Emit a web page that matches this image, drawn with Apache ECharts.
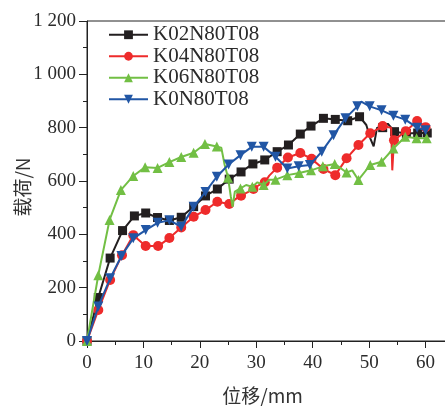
<!DOCTYPE html>
<html><head><meta charset="utf-8">
<script src="https://cdn.jsdelivr.net/npm/echarts@6/dist/echarts.min.js"></script>
<style>html,body{margin:0;padding:0;background:#fff}#c{width:445px;height:406px}</style>
</head><body><div id="c"></div>
<script>
// [x (mm), load (N), marker shown 1/0]
const seriesNames = ['K02N80T08','K04N80T08','K06N80T08','K0N80T08'];
const k02 = [[0,0,1],[2.0,163,1],[4.1,311,1],[6.3,414,1],[8.4,469,1],[10.4,480,1],[12.5,463,1],[14.6,452,1],[16.7,464,1],[18.9,504,1],[21.0,544,1],[23.1,570,1],[25.2,607,1],[27.3,634,1],[29.4,664,1],[31.5,679,1],[33.7,710,1],[35.7,735,1],[37.8,776,1],[39.7,806,1],[41.9,835,1],[44.0,831,1],[46.2,826,1],[48.3,841,1],[49.5,810,0],[50.2,760,0],[50.8,730,0],[51.4,800,0],[52.4,800,1],[53.3,815,0],[54.5,785,1],[56.6,778,1],[58.6,780,1],[60.3,780,1]];
const k04 = [[0,0,1],[2.0,116,1],[4.1,229,1],[6.2,322,1],[8.2,397,1],[10.4,356,1],[12.6,356,1],[14.6,386,1],[16.7,426,1],[18.9,466,1],[21.0,491,1],[23.1,522,1],[25.2,514,1],[26.5,535,0],[27.3,545,1],[28.5,558,0],[29.5,570,1],[30.5,585,0],[31.5,595,1],[32.3,620,0],[33.7,650,1],[35.6,688,1],[37.8,705,1],[39.8,683,1],[41.9,645,1],[44.0,622,1],[46.0,685,1],[48.1,735,1],[50.2,779,1],[52.4,806,1],[53.9,800,0],[54.1,640,0],[54.4,753,1],[56.5,787,1],[58.5,825,1],[60.0,802,1]];
const k06 = [[0,0,1],[2.0,247,1],[4.0,454,1],[6.0,566,1],[8.2,619,1],[10.3,652,1],[12.5,649,1],[14.6,671,1],[16.7,690,1],[18.9,706,1],[20.9,739,1],[23.0,729,1],[23.8,725,0],[24.4,660,0],[25.0,612,1],[25.5,540,0],[25.8,503,0],[26.2,560,0],[27.2,572,1],[28.2,585,0],[29.3,578,1],[30.2,595,0],[31.3,585,1],[32.3,605,0],[33.4,605,1],[35.5,622,1],[37.6,630,1],[39.7,640,1],[41.8,655,1],[43.9,664,1],[46.0,632,1],[47.0,640,0],[48.1,604,1],[50.2,660,1],[52.2,672,1],[54.3,722,1],[56.4,766,1],[58.4,760,1],[60.2,760,1]];
const k0 = [[0,0,1],[2.0,129,1],[4.1,235,1],[6.1,319,1],[8.2,385,1],[10.4,416,1],[12.5,443,1],[14.6,453,1],[16.7,428,1],[18.9,503,1],[21.0,559,1],[23.0,616,1],[25.1,662,1],[27.2,697,1],[29.2,728,1],[31.3,728,1],[33.4,691,1],[35.5,647,1],[37.5,655,1],[39.5,660,1],[41.6,710,1],[43.7,772,1],[45.8,835,1],[47.9,880,1],[48.6,898,0],[50.1,880,1],[52.2,865,1],[54.3,845,1],[56.4,830,1],[58.5,800,1],[60.0,790,1]];
const xTicks = [0,10,20,30,40,50,60];
const yTicks = [0,200,400,600,800,1000,1200];

const colors = ['#231f20','#ee2b2b','#72bf44','#2156a5'];
const symbols = ['rect','circle','triangle','triangle'];
const rotates = [0,0,0,180];
const sizes = [9,10,10,10];
const all = [k02,k04,k06,k0];

function toData(arr){
  return arr.map(p => p[2] ? {value:[p[0],p[1]]} : {value:[p[0],p[1]], symbol:'none'});
}
const serif = '"Liberation Serif","Times New Roman",serif';
const chart = echarts.init(document.getElementById('c'));
chart.setOption({
  animation:false,
  backgroundColor:'#fff',
  grid:{left:87, top:21, width:395, height:320, show:true, borderColor:'#222', borderWidth:1,
    backgroundColor:'transparent', containLabel:false, outerBoundsMode:'none'},
  legend:{
    orient:'vertical', left:108, top:24, padding:0, itemGap:0,
    itemWidth:39, itemHeight:11,
    textStyle:{fontFamily:serif, fontSize:21, color:'#2b2b2b', lineHeight:21.5},
    data:seriesNames
  },
  xAxis:{
    type:'value', min:0, max:70, interval:10,
    name:'位移/mm', nameLocation:'middle', nameGap:45, nameMoveOverlap:false,
    nameTextStyle:{fontFamily:'"Noto Sans CJK SC",'+serif, fontSize:19, color:'#333', padding:[0,44,0,0]},
    axisLine:{show:true, lineStyle:{color:'#222', width:1}},
    axisTick:{show:true, length:7, inside:false, lineStyle:{color:'#222'}},
    minorTick:{show:true, splitNumber:2, length:4, lineStyle:{color:'#222'}},
    splitLine:{show:false},
    axisLabel:{fontFamily:serif, fontSize:19, color:'#2b2b2b', margin:13,
      formatter:v => xTicks.indexOf(v) >= 0 ? String(v) : ''}
  },
  yAxis:{
    type:'value', min:0, max:1200, interval:200,
    name:'载荷/N', nameLocation:'middle', nameGap:55, nameRotate:90, nameMoveOverlap:false,
    nameTextStyle:{fontFamily:'"Noto Sans CJK SC",'+serif, fontSize:19, color:'#333', padding:[0,12,0,0]},
    axisLine:{show:true, lineStyle:{color:'#222', width:1}},
    axisTick:{show:true, length:8, lineStyle:{color:'#222'}},
    minorTick:{show:true, splitNumber:2, length:4, lineStyle:{color:'#222'}},
    splitLine:{show:false},
    axisLabel:{fontFamily:serif, fontSize:19, color:'#2b2b2b', margin:11,
      formatter:v => { if (yTicks.indexOf(v) < 0) return ''; return v >= 1000 ? Math.floor(v/1000) + ' ' + String(v % 1000).padStart(3,'0') : String(v); }}
  },
  series: all.map((arr,i) => ({
    name: seriesNames[i], type:'line', data: toData(arr),
    symbol: symbols[i], symbolSize: sizes[i], symbolRotate: rotates[i],
    showAllSymbol:true,
    lineStyle:{color:colors[i], width:2},
    itemStyle:{color:colors[i], borderWidth:0},
    z: 2+i
  }))
});
</script></body></html>
